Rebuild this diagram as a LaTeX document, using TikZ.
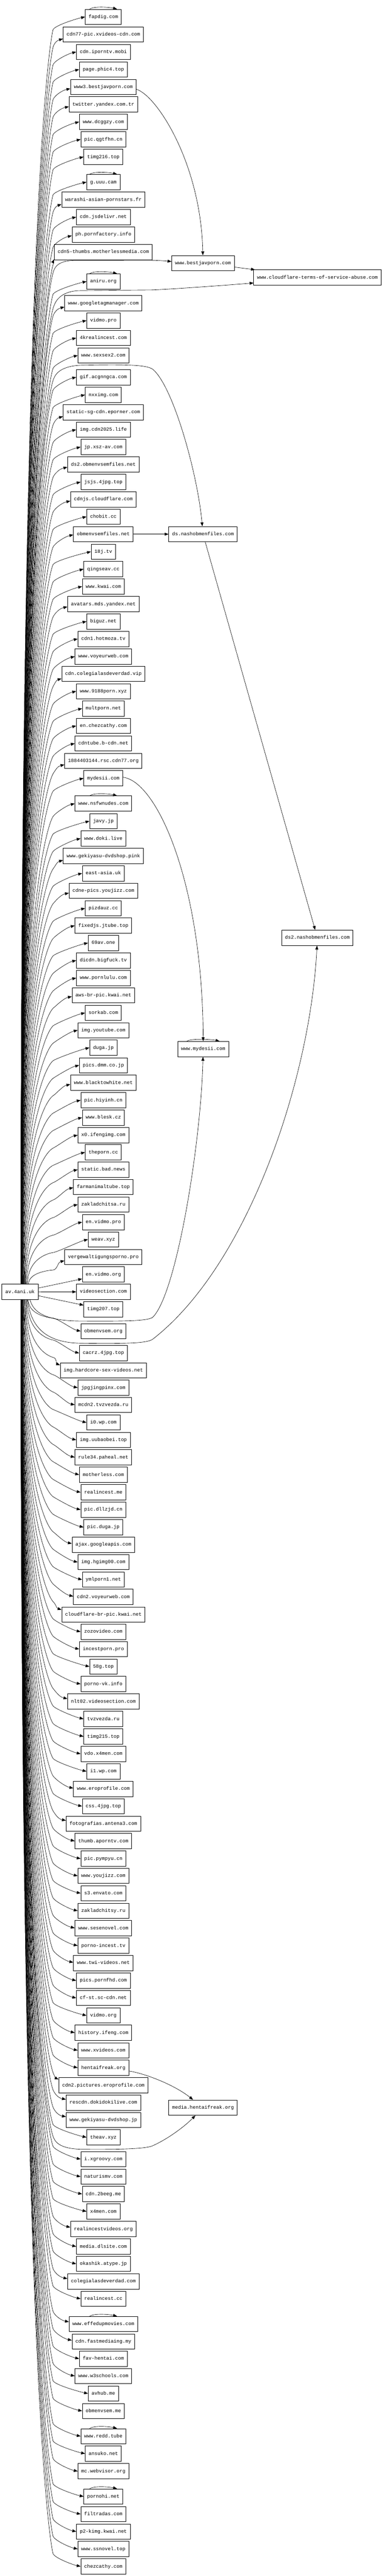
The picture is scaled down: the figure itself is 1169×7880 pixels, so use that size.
\documentclass[tikz,border=0pt]{standalone}
\usepackage{fontspec}
\newfontfamily\gvfont{Liberation Mono}
\usetikzlibrary{arrows.meta,calc}
\newdimen\gvdx
\newdimen\gvdy
\newcommand\gvbundle[1]{%
  \pgfmathsetmacro\gvYm{#1}%
  \pgfmathsetmacro\gvS{\gvYm<3952 ? 1 : -1}%
  \pgfmathsetmacro\gvRy{3952-24*\gvS}%
  \pgfmathsetmacro\gvD{abs(\gvRy-\gvYm)}%
  \pgfmathsetmacro\gvSx{64+26*exp(-\gvD/400)}%
  \pgfmathsetmacro\gvCy{\gvRy-0.9*\gvD*\gvS}%
}
\newcommand\gvredge[1]{%
  \pgfextractx{\gvdx}{\pgfpointanchor{#1}{west}}%
  \pgfextracty{\gvdy}{\pgfpointanchor{#1}{west}}%
  \pgfmathsetmacro\gvXw{\gvdx}%
  \pgfmathsetmacro\gvYt{-\gvdy}%
  \pgfmathsetmacro\gvSt{\gvYt<3952 ? 1 : -1}%
  \gvbundle{\gvYt+40*\gvSt}%
  \pgfmathsetmacro\gvOff{max(0,min(22,(230-\gvXw)*0.35))}%
  \pgfmathsetmacro\gvEy{\gvYt+\gvOff*\gvSt}%
  \pgfmathsetmacro\gvCxb{\gvXw-0.6*min(40,\gvXw-162)}%
  \pgfmathsetmacro\gvCyb{\gvEy+5*\gvSt}%
  \draw[gvedge] (\gvSx,\gvRy) .. controls (\gvSx,\gvCy) and (162,\gvYm) .. (162,\gvYm)
    .. controls ($(162,\gvYm)!-14pt!(\gvSx,\gvCy)$) and (\gvCxb,\gvCyb) .. (\gvXw,\gvEy);
}
\begin{document}
\begin{tikzpicture}[x=1pt,y=-1pt,
  gvbox/.style={draw=black, line width=1.33pt, rectangle, minimum height=46.7pt,
    inner xsep=10.3pt, inner ysep=0pt, text height=11.9pt, text depth=3.5pt,
    font=\gvfont\fontsize{15pt}{18pt}\selectfont},
  gvedge/.style={draw=black, line width=1pt, -{Triangle[length=12pt,width=9pt]}}]
\fill[white] (0,0) rectangle (1169,7880);
\useasboundingbox (0,0) rectangle (1169,7880);

% column of targets
\foreach \ni/\ny/\nt in {
1/51.7/fapdig.com,
2/105.7/cdn77-pic.xvideos-cdn.com,
3/159/cdn.iporntv.mobi,
4/212.6/page.phic4.top,
5/266/www3.bestjavporn.com,
6/319.5/twitter.yandex.com.tr,
7/373/www.dcggzy.com,
8/426.5/pic.qgtfhn.cn,
9/480/timg216.top,
10/557/g.uuu.cam,
11/610.5/warashi-asian-pornstars.fr,
12/664/cdn.jsdelivr.net,
13/717.5/ph.pornfactory.info,
14/771/cdn5-thumbs.motherlessmedia.com,
15/861/aniru.org,
16/927.7/www.googletagmanager.com,
17/980.5/vidmo.pro,
18/1034/4krealincest.com,
19/1087.5/www.sexsex2.com,
20/1154/gif.acgnngca.com,
21/1207.8/nxximg.com,
22/1261/static-sg-cdn.eporner.com,
23/1314.4/img.cdn2025.life,
24/1367.5/jp.xsz-av.com,
25/1421/ds2.obmenvsemfiles.net,
26/1474.6/jsjs.4jpg.top,
27/1527.4/cdnjs.cloudflare.com,
28/1580.6/chobit.cc,
29/1634/obmenvsemfiles.net,
30/1687.6/18j.tv,
31/1741/qingseav.cc,
32/1794/www.kwai.com,
33/1848/avatars.mds.yandex.net,
34/1901/biguz.net,
35/1954.4/cdn1.hotmoza.tv,
36/2008/www.voyeurweb.com,
37/2061/cdn.colegialasdeverdad.vip,
38/2114.6/www.9188porn.xyz,
39/2167.4/multporn.net,
40/2220.5/en.chezcathy.com,
41/2274/cdntube.b-cdn.net,
42/2327.6/1884403144.rsc.cdn77.org,
43/2380.7/mydesii.com,
44/2458/www.nsfwnudes.com,
45/2512/javy.jp,
46/2565/www.doki.live,
47/2618.5/www.gekiyasu-dvdshop.pink,
48/2671.6/east-asia.uk,
49/2725/cdne-pics.youjizz.com,
50/2778.6/pizdauz.cc,
51/2831.3/fixedjs.jtube.top,
52/2884.4/69av.one,
53/2938/dicdn.bigfuck.tv,
54/2991.6/www.pornlulu.com,
55/3044.8/aws-br-pic.kwai.net,
56/3098.4/sorkab.com,
57/3151.6/img.youtube.com,
58/3205/duga.jp,
59/3258.8/pics.dmm.co.jp,
60/3312/www.blacktowhite.net,
61/3365.5/pic.hiyinh.cn,
62/3418.7/www.blesk.cz,
63/3472.3/x0.ifengimg.com,
64/3525/theporn.cc,
65/3578/static.bad.news,
66/3631/farmanimaltube.top,
67/3684.8/zakladchitsa.ru,
68/3738.4/en.vidmo.pro,
69/3791.6/weav.xyz,
70/3845/vergewaltigungsporno.pro,
71/3898.3/en.vidmo.org,
72/3951.5/videosection.com,
73/4005/timg207.top,
74/4072/obmenvsem.org,
75/4139/cacrz.4jpg.top,
76/4192/img.hardcore-sex-videos.net,
77/4245/jpgjingpinx.com,
78/4297.8/mcdn2.tvzvezda.ru,
79/4351.4/i0.wp.com,
80/4404.6/img.uubaobei.top,
81/4458/rule34.paheal.net,
82/4511/motherless.com,
83/4565/realincest.me,
84/4618/pic.dllzjd.cn,
85/4671.7/pic.duga.jp,
86/4725.3/ajax.googleapis.com,
87/4778.5/img.hgimg00.com,
88/4832/ymlporn1.net,
89/4885/cdn2.voyeurweb.com,
90/4938.8/cloudflare-br-pic.kwai.net,
91/4991.4/zozovideo.com,
92/5044.6/incestporn.pro,
93/5098/58g.top,
94/5151.4/porno-vk.info,
95/5204.5/nlt02.videosection.com,
96/5258/tvzvezda.ru,
97/5311.7/timg215.top,
98/5364.9/vdo.x4men.com,
99/5418.5/i1.wp.com,
100/5472/www.eroprofile.com,
101/5525.3/css.4jpg.top,
102/5578.8/fotografias.antena3.com,
103/5632/thumb.aporntv.com,
104/5685.6/pic.pympyu.cn,
105/5738.2/www.youjizz.com,
106/5791.4/s3.envato.com,
107/5845/zakladchitsy.ru,
108/5898/www.sesenovel.com,
109/5951.7/porno-incest.tv,
110/6005/www.twi-videos.net,
111/6058.5/pics.pornfhd.com,
112/6111.7/cf-st.sc-cdn.net,
113/6165.3/vidmo.org,
114/6218.4/history.ifeng.com,
115/6272/www.xvideos.com,
116/6325.2/hentaifreak.org,
117/6378.8/cdn2.pictures.eroprofile.com,
118/6432/rescdn.dokidokilive.com,
119/6485/www.gekiyasu-dvdshop.jp,
120/6538/theav.xyz,
121/6604.8/i.xgroovy.com,
122/6658.4/naturismv.com,
123/6711.6/cdn.2beeg.me,
124/6764.7/x4men.com,
125/6818.3/realincestvideos.org,
126/6872/media.dlsite.com,
127/6925/okashik.atype.jp,
128/6978.7/colegialasdeverdad.com,
129/7031.9/realincest.cc,
130/7109.3/www.effedupmovies.com,
131/7162.5/cdn.fastmediaing.my,
132/7215.2/fav-hentai.com,
133/7268.5/www.w3schools.com,
134/7321.8/avhub.me,
135/7375.2/obmenvsem.me,
136/7452.4/www.redd.tube,
137/7505.7/ansuko.net,
138/7559.5/mc.webvisor.org,
139/7636.8/pornohi.net,
140/7690.6/filtradas.com,
141/7744/p2-kimg.kwai.net,
142/7797.2/www.ssnovel.top,
143/7850.6/chezcathy.com}
  {\node[gvbox] (n\ni) at (316.4,\ny) {\nt};}

% root and right-hand nodes
\node[gvbox] (root) at (61.3,3952) {av.4ani.uk};
\node[gvbox] (bj) at (621.5,805) {www.bestjavporn.com};
\node[gvbox] (cf) at (971.6,849) {www.cloudflare-terms-of-service-abuse.com};
\node[gvbox] (dsn) at (621.5,1634) {ds.nashobmenfiles.com};
\node[gvbox] (ds2) at (971.6,2868.6) {ds2.nashobmenfiles.com};
\node[gvbox] (wmd) at (622,3209) {www.mydesii.com};
\node[gvbox] (mhf) at (621.5,6447) {media.hentaifreak.org};

% root -> column
\foreach \ni in {1,...,70} {\gvredge{n\ni}}
\foreach \ni in {74,...,143} {\gvredge{n\ni}}
\draw[gvedge] (root) -- (n71);
\draw[gvedge] (root) -- (n72);
\draw[gvedge] (root) -- (n73);

% root -> right-hand nodes
\gvbundle{836}
\draw[gvedge] (\gvSx,\gvRy) .. controls (\gvSx,\gvCy) and (162,\gvYm) .. (162,\gvYm)
  .. controls ($(162,\gvYm)!-14pt!(\gvSx,\gvCy)$) and (170,799) .. (225,796.5)
  -- (450,796) .. controls (480,796) and (505,798) .. ([yshift=5pt]bj.west);
\gvbundle{945}
\draw[gvedge] (\gvSx,\gvRy) .. controls (\gvSx,\gvCy) and (162,\gvYm) .. (162,\gvYm)
  .. controls ($(162,\gvYm)!-14pt!(\gvSx,\gvCy)$) and (175,893) .. (240,889)
  -- (464,887) .. controls (520,885) and (700,872) .. (cf);
\gvbundle{1165}
\draw[gvedge] (\gvSx,\gvRy) .. controls (\gvSx,\gvCy) and (162,\gvYm) .. (162,\gvYm)
  .. controls ($(162,\gvYm)!-14pt!(\gvSx,\gvCy)$) and (175,1120) .. (250,1117)
  .. controls (380,1115) and (445,1115) .. (467,1129)
  .. controls (530,1180) and (605,1450) .. (dsn);
\draw[gvedge] (92,3976) .. controls (102,4015) and (140,4041) .. (250,4041)
  .. controls (400,4042) and (450,4040) .. (467,4030)
  .. controls (540,3960) and (615,3500) .. (wmd);
\draw[gvedge] (84,3976) .. controls (95,4060) and (140,4108) .. (250,4109)
  .. controls (400,4111) and (450,4108) .. (467,4097)
  .. controls (760,3870) and (950,3300) .. (ds2);
\gvbundle{6534}
\draw[gvedge] (\gvSx,\gvRy) .. controls (\gvSx,\gvCy) and (162,\gvYm) .. (162,\gvYm)
  .. controls ($(162,\gvYm)!-14pt!(\gvSx,\gvCy)$) and (175,6573) .. (250,6574.5)
  .. controls (400,6576) and (450,6571) .. (467,6564)
  .. controls (520,6540) and (570,6500) .. (mhf);

% other links
\draw[gvedge] ([yshift=-7pt]n5.east) .. controls (480,292) and (615,500) .. (bj);
\draw[gvedge] (bj) -- (cf);
\draw[gvedge] (n29) -- (dsn);
\draw[gvedge] (dsn) -- (ds2);
\draw[gvedge] ([yshift=3pt]n43.east) .. controls (480,2390) and (620,2700) .. (wmd);
\draw[gvedge] ([yshift=-10pt]n116.east) .. controls (440,6342) and (530,6375) .. (mhf);

% self loops
\foreach \nn in {n1,n10,n15,n44,n130,n136,n139}
  {\draw[gvedge] ([xshift=-42pt]\nn.north) .. controls +(14pt,9pt) and +(-26pt,6pt) .. ([xshift=42pt]\nn.north);}
\draw[gvedge] ([xshift=-50pt]wmd.north) .. controls +(14pt,9pt) and +(-26pt,6pt) .. ([xshift=50pt]wmd.north);
\end{tikzpicture}
\end{document}
